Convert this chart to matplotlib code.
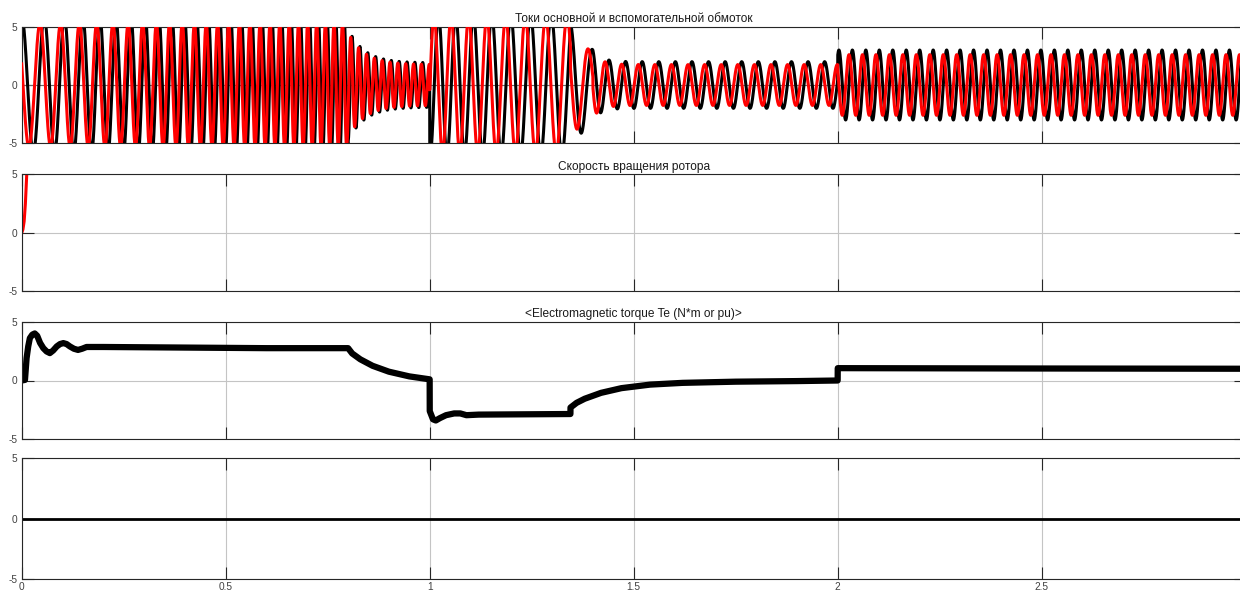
import numpy as np
import matplotlib
matplotlib.use("Agg")
import matplotlib.pyplot as plt

plt.rcParams['font.family'] = ['Liberation Sans', 'DejaVu Sans']
plt.rcParams['axes.unicode_minus'] = False

# ---------------- data ----------------
titles = ["Токи основной и вспомогательной обмоток",
          "Скорость вращения ротора",
          "<Electromagnetic torque Te (N*m or pu)>",
          ""]
x_ticks = [0, 0.5, 1, 1.5, 2, 2.5]
x_tick_labels = ["0", "0.5", "1", "1.5", "2", "2.5"]
y_ticks = [-5, 0, 5]
y_tick_labels = ["-5", "0", "5"]

# winding currents: segments (start, end), frequency (Hz) at start/end,
# amplitudes at start/end, decay constant (0 = linear), time of a main peak
seg_start = [0.0, 0.80, 1.00, 1.345, 1.40, 2.00]
seg_end = [0.80, 1.00, 1.345, 1.40, 2.00, 3.00]
freq_start = [17.0, 52.0, 24.5, 18.5, 24.6, 30.3]
freq_end = [49.2, 52.0, 18.5, 18.5, 24.6, 30.3]
main_amp_start = [5.8, 4.8, 6.0, 5.2, 3.0, 3.0]
main_amp_end = [5.8, 1.9, 6.0, 3.0, 2.0, 3.0]
aux_amp_start = [5.3, 4.5, 5.8, 4.2, 2.8, 2.6]
aux_amp_end = [5.3, 1.75, 5.8, 2.8, 1.75, 2.6]
decay_tau = [0.0, 0.04, 0.0, 0.0, 0.02, 0.0]
main_peak_time = [0.0, 0.8098, 1.0216, 1.345, 1.4396, 2.003]
aux_lead_deg = [70, 60, 95, 70, 85, 90]

# rotor speed (clipped by the axes)
speed_t = [0.0, 0.003, 0.006, 0.009, 0.011, 0.013, 0.016, 0.02]
speed_v = [0.0, 0.3, 1.0, 2.5, 4.0, 5.5, 8.0, 12.0]

# electromagnetic torque
torque_t = [0.0, 0.008, 0.012, 0.016, 0.02, 0.026, 0.032, 0.038, 0.045, 0.053,
            0.061, 0.069, 0.077, 0.086, 0.094, 0.102, 0.110, 0.118, 0.128,
            0.138, 0.148, 0.159, 0.2, 0.4, 0.6, 0.8, 0.81, 0.83, 0.86, 0.9,
            0.95, 0.9999, 1.0001, 1.008, 1.015, 1.025, 1.04, 1.06, 1.075, 1.09,
            1.12, 1.3449, 1.3451, 1.36, 1.38, 1.42, 1.47, 1.54, 1.62, 1.75,
            1.9, 1.9999, 2.0001, 2.5, 3.0]
torque_v = [0.0, 0.05, 1.9, 2.9, 3.6, 3.9, 4.0, 3.8, 3.2, 2.75,
            2.47, 2.33, 2.55, 2.9, 3.1, 3.18, 3.1, 2.9, 2.7,
            2.6, 2.7, 2.85, 2.85, 2.8, 2.75, 2.75, 2.3, 1.8, 1.25, 0.75,
            0.35, 0.1, -2.6, -3.3, -3.4, -3.2, -2.95, -2.8, -2.8, -2.95,
            -2.9, -2.85, -2.3, -1.9, -1.55, -1.05, -0.65, -0.35, -0.2, -0.1,
            -0.05, 0.0, 1.05, 1.02, 1.0]

# fourth scope channel
zero_t = [0.0, 3.0]
zero_v = [0.0, 0.0]


def winding_current(t, amp_start, amp_end, lead_deg):
    out = np.zeros_like(t)
    n = len(seg_start)
    for i in range(n):
        s, e = seg_start[i], seg_end[i]
        m = (t >= s) & (t < e) if i < n - 1 else (t >= s) & (t <= e)
        ts = t[m]
        k = (freq_end[i] - freq_start[i]) / (e - s)

        def cyc(x):
            return freq_start[i] * (x - s) + 0.5 * k * (x - s) ** 2

        ph = cyc(ts) - cyc(main_peak_time[i])
        if decay_tau[i] > 0:
            a = amp_end[i] + (amp_start[i] - amp_end[i]) * np.exp(-(ts - s) / decay_tau[i])
        else:
            a = amp_start[i] + (amp_end[i] - amp_start[i]) * (ts - s) / (e - s)
        out[m] = a * np.cos(2 * np.pi * ph + np.deg2rad(lead_deg[i]))
    return out


t = np.linspace(0, 3, 30001)
i_main = winding_current(t, main_amp_start, main_amp_end, [0] * len(seg_start))
i_aux = winding_current(t, aux_amp_start, aux_amp_end, aux_lead_deg)

# ---------------- figure ----------------
W, H = 1240, 593
fig = plt.figure(figsize=(W / 100, H / 100), dpi=100)
left = 21.7 / W
width = 1224 / W
rows = [(26.7, 143.3), (174.5, 291.5), (321.7, 439.3), (458.3, 579.3)]
axes = []
for top, bot in rows:
    ax = fig.add_axes([left, 1 - bot / H, width, (bot - top) / H])
    axes.append(ax)

for k, ax in enumerate(axes):
    ax.set_xlim(0, 3)
    ax.set_ylim(-5, 5)
    ax.set_xticks(x_ticks)
    ax.set_yticks(y_ticks)
    ax.set_yticklabels(y_tick_labels)
    if k == 3:
        ax.set_xticklabels(x_tick_labels)
    else:
        ax.set_xticklabels([])
    ax.tick_params(direction='in', length=8.5, width=0.8, colors='#262626',
                   labelcolor='#404040', labelsize=7.3, top=True, right=True,
                   pad=3)
    ax.tick_params(axis='x', pad=2)
    for sp in ax.spines.values():
        sp.set_color('#262626')
        sp.set_linewidth(0.8)
    ax.grid(True, color='#c4c4c4', linewidth=0.8)
    ax.set_axisbelow(True)
    if titles[k]:
        ax.set_title(titles[k], fontsize=8.6, pad=3.5, color='#1a1a1a')

axes[0].axhline(0, color='#6a6a6a', linewidth=0.8, zorder=1)
axes[0].plot(t, i_main, color='black', linewidth=2.2, zorder=2)
axes[0].plot(t, i_aux, color='#ff0000', linewidth=2.2, zorder=3)

axes[1].plot(speed_t, speed_v, color='#ff0000', linewidth=2.2)

axes[2].plot(torque_t, torque_v, color='black', linewidth=4.5,
             solid_joinstyle='round')

axes[3].plot(zero_t, zero_v, color='black', linewidth=2.0)

fig.savefig("out.png", dpi=100)
